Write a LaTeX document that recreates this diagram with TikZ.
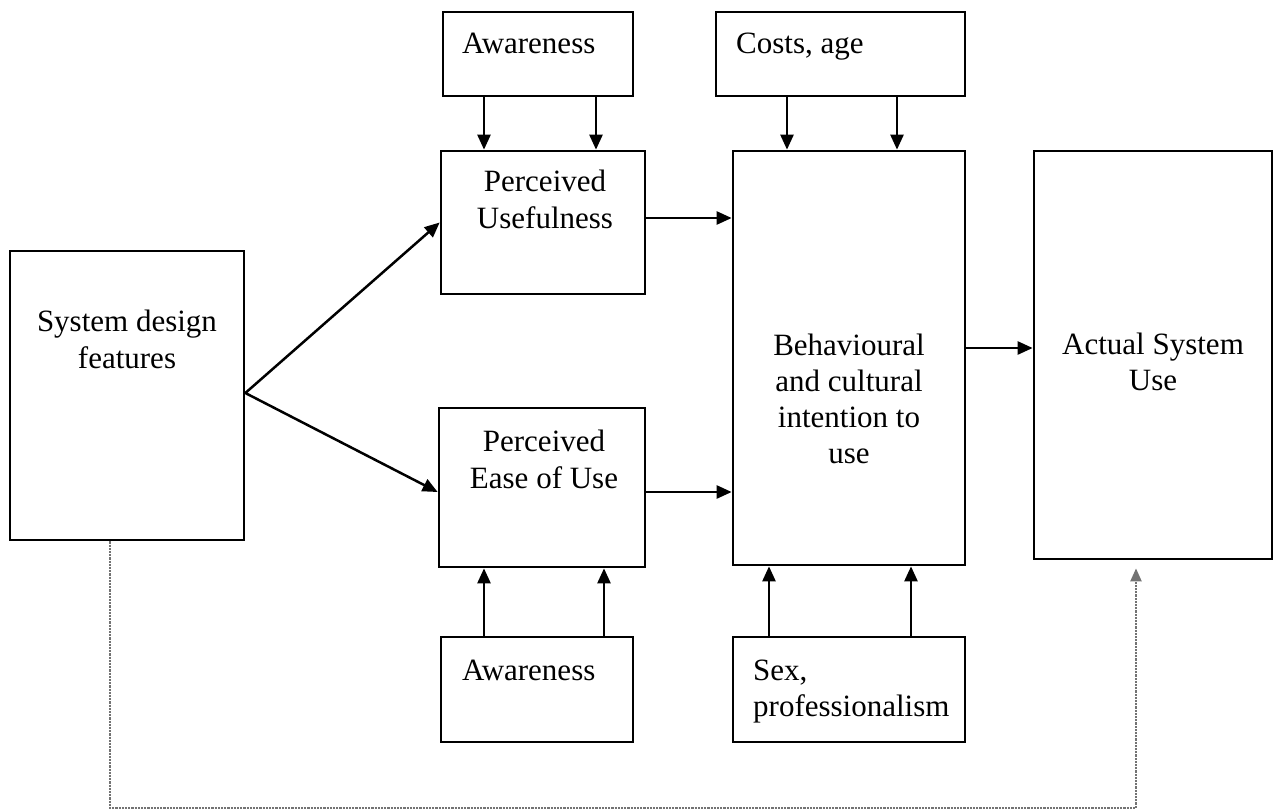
\documentclass[tikz,border=0pt]{standalone}
\usepackage{fontspec}
\setmainfont{Liberation Serif}
\usetikzlibrary{arrows.meta}
\begin{document}
\begin{tikzpicture}[x=1pt,y=-1pt,
  box/.style={draw=black,line width=2.7pt,rectangle,inner sep=0pt},
  txt/.style={inner sep=0pt,font=\fontsize{31}{36}\selectfont,text=black},
  arr/.style={draw=black,line width=2.5pt,-{Triangle[length=15pt,width=13pt]}},
  dotline/.style={draw=black!55,line width=2.2pt,densely dotted,-{Triangle[length=13pt,width=11pt]},shorten >=8pt}]
\useasboundingbox (0,0) rectangle (1274,811);
% boxes
\node[box,minimum width=190pt,minimum height=84pt] (awt) at (538,54) {};
\node[box,minimum width=249pt,minimum height=84pt] (cost) at (840.5,54) {};
\node[box,minimum width=204pt,minimum height=143pt] (pu) at (543,222.5) {};
\node[box,minimum width=232pt,minimum height=414pt] (beh) at (849,358) {};
\node[box,minimum width=238pt,minimum height=408pt] (act) at (1153,355) {};
\node[box,minimum width=234pt,minimum height=289pt] (sdf) at (127,395.5) {};
\node[box,minimum width=206pt,minimum height=159pt] (peou) at (542,487.5) {};
\node[box,minimum width=192pt,minimum height=105pt] (awb) at (537,689.5) {};
\node[box,minimum width=232pt,minimum height=105pt] (sex) at (849,689.5) {};
% texts
\node[txt,anchor=base west] (tawt) at (462,53) {Awareness};
\node[txt,anchor=base west] (tcost) at (736,53) {Costs, age};
\node[txt,anchor=base] (tpu1) at (545,191) {Perceived};
\node[txt,anchor=base] (tpu2) at (545,228) {Usefulness};
\node[txt,anchor=base] (tsdf1) at (127,331) {System design};
\node[txt,anchor=base] (tsdf2) at (127,368) {features};
\node[txt,anchor=base] (tbeh1) at (849,355) {Behavioural};
\node[txt,anchor=base] (tbeh2) at (849,391) {and cultural};
\node[txt,anchor=base] (tbeh3) at (849,427) {intention to};
\node[txt,anchor=base] (tbeh4) at (849,463) {use};
\node[txt,anchor=base] (tact1) at (1153,354) {Actual System};
\node[txt,anchor=base] (tact2) at (1153,390) {Use};
\node[txt,anchor=base] (tpe1) at (544,451) {Perceived};
\node[txt,anchor=base] (tpe2) at (544,488) {Ease of Use};
\node[txt,anchor=base west] (tawb) at (462,680) {Awareness};
\node[txt,anchor=base west] (tsex1) at (753,680) {Sex,};
\node[txt,anchor=base west] (tsex2) at (753,716) {professionalism};
% arrows top
\draw[arr] ([xshift=-54pt]awt.south) -- ([xshift=-54pt]awt.south |- pu.north);
\draw[arr] ([xshift=58pt]awt.south) -- ([xshift=58pt]awt.south |- pu.north);
\draw[arr] ([xshift=-53.5pt]cost.south) -- ([xshift=-53.5pt]cost.south |- beh.north);
\draw[arr] ([xshift=56.5pt]cost.south) -- ([xshift=56.5pt]cost.south |- beh.north);
% arrows bottom
\draw[arr] ([xshift=-53pt]awb.north) -- ([xshift=-53pt]awb.north |- peou.south);
\draw[arr] ([xshift=67pt]awb.north) -- ([xshift=67pt]awb.north |- peou.south);
\draw[arr] ([xshift=-80pt]sex.north) -- ([xshift=-80pt]sex.north |- beh.south);
\draw[arr] ([xshift=62pt]sex.north) -- ([xshift=62pt]sex.north |- beh.south);
% horizontal arrows
\draw[arr] ([yshift=4.5pt]pu.east) -- ([yshift=4.5pt]pu.east -| beh.west);
\draw[arr] ([yshift=-4.5pt]peou.east) -- ([yshift=-4.5pt]peou.east -| beh.west);
\draw[arr] ([yshift=10pt]beh.east) -- ([yshift=10pt]beh.east -| act.west);
% system design features
\coordinate (sdfo) at ([yshift=2.5pt]sdf.east);
\draw[arr] (sdfo) -- (pu.west);
\draw[arr] (sdfo) -- ([yshift=-4.5pt]peou.west);
% dotted feedback
\coordinate (dl) at (110,808);
\coordinate (dr) at (1136,808);
\draw[dotline] ([xshift=-17pt]sdf.south) -- (dl) -- (dr) -- ([xshift=-17pt]act.south);
\end{tikzpicture}
\end{document}
